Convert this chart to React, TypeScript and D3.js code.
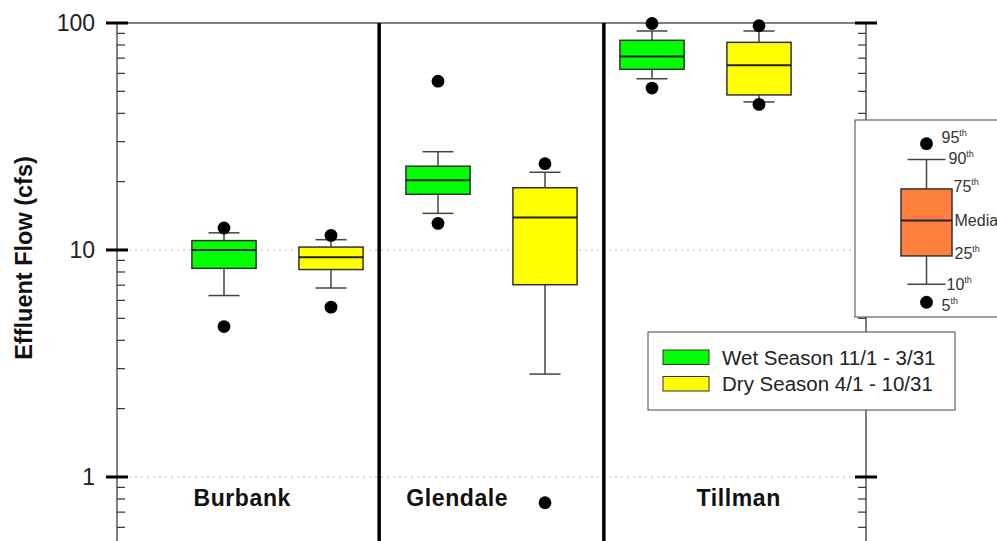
import React from "react";
import * as d3 from "d3";

const sites = ["Burbank", "Glendale", "Tillman"];
const seasons = ["Wet Season 11/1 - 3/31", "Dry Season 4/1 - 10/31"];
const seasonColors = ["#00FF00", "#FFFF00"];

// percentiles per site, wet season
const wetP5 = [4.6, 13.1, 51.7];
const wetP10 = [6.3, 14.5, 56.8];
const wetQ1 = [8.3, 17.6, 62.5];
const wetMedian = [10.0, 20.3, 71.1];
const wetQ3 = [11.0, 23.4, 83.9];
const wetP90 = [11.9, 27.1, 92.2];
const wetP95 = [12.5, 55.4, 99.5];

// percentiles per site, dry season
const dryP5 = [5.6, 0.77, 43.8];
const dryP10 = [6.8, 2.84, 44.9];
const dryQ1 = [8.2, 7.03, 48.2];
const dryMedian = [9.3, 13.9, 65.1];
const dryQ3 = [10.3, 18.8, 82.2];
const dryP90 = [11.1, 22.0, 92.2];
const dryP95 = [11.6, 24.0, 97.3];

const majorTicks = [1, 10, 100];
const separators = [2.45, 4.55];
const siteLabelPos = [1.17, 3.18, 5.81];

// illustrative box for the key (arbitrary linear units)
const keyStats = { p5: 0.75, p10: 1.66, q1: 3.1, median: 4.9, q3: 6.5, p90: 8.0, p95: 8.8 };

const FONT = "'Liberation Sans', Arial, sans-serif";

type Stats = { p5: number; p10: number; q1: number; median: number; q3: number; p90: number; p95: number };

const statsFor = (s: number, i: number): Stats =>
  s === 0
    ? { p5: wetP5[i], p10: wetP10[i], q1: wetQ1[i], median: wetMedian[i], q3: wetQ3[i], p90: wetP90[i], p95: wetP95[i] }
    : { p5: dryP5[i], p10: dryP10[i], q1: dryQ1[i], median: dryMedian[i], q3: dryQ3[i], p90: dryP90[i], p95: dryP95[i] };

const BoxGlyph = ({ cx, half, cap, st, yf, fill }: { cx: number; half: number; cap: number; st: Stats; yf: (v: number) => number; fill: string }) => (
  <g>
    <line x1={cx} x2={cx} y1={yf(st.p90)} y2={yf(st.q3)} stroke="#444" strokeWidth={1.5} />
    <line x1={cx} x2={cx} y1={yf(st.q1)} y2={yf(st.p10)} stroke="#444" strokeWidth={1.5} />
    <line x1={cx - cap} x2={cx + cap} y1={yf(st.p90)} y2={yf(st.p90)} stroke="#444" strokeWidth={1.5} />
    <line x1={cx - cap} x2={cx + cap} y1={yf(st.p10)} y2={yf(st.p10)} stroke="#444" strokeWidth={1.5} />
    <rect x={cx - half} y={yf(st.q3)} width={half * 2} height={yf(st.q1) - yf(st.q3)} fill={fill} stroke="#333" strokeWidth={1.5} />
    <line x1={cx - half} x2={cx + half} y1={yf(st.median)} y2={yf(st.median)} stroke="#222" strokeWidth={2} />
    <circle cx={cx} cy={yf(st.p95)} r={6.4} fill="#000" />
    <circle cx={cx} cy={yf(st.p5)} r={6.4} fill="#000" />
  </g>
);

export default function App() {
  const width = 997;
  const height = 541;
  const x = d3.scaleLinear().domain([0, 7]).range([117, 866]);
  const y = d3.scaleLog().domain([0.5, 100]).range([545.3, 23]);
  const unit = x(1) - x(0);

  const minorTicks: number[] = [];
  [0.1, 1, 10].forEach((d) => {
    for (let m = 2; m <= 9; m++) {
      const v = d * m;
      if (v >= 0.5 && v < 100) minorTicks.push(v);
    }
  });

  const left = x(0);
  const right = x(7);

  const keyY = d3.scaleLinear().domain([0, 10]).range([317, 120]);
  const keyCx = 926.5;
  const keyLabels = [
    { sup: "95", tail: "th", v: keyStats.p95, dx: 15, dy: -1 },
    { sup: "90", tail: "th", v: keyStats.p90, dx: 22, dy: 5 },
    { sup: "75", tail: "th", v: keyStats.q3, dx: 27, dy: 3 },
    { sup: "Media", tail: "", v: keyStats.median, dx: 28, dy: 6 },
    { sup: "25", tail: "th", v: keyStats.q1, dx: 28, dy: 3 },
    { sup: "10", tail: "th", v: keyStats.p10, dx: 20, dy: 6 },
    { sup: "5", tail: "th", v: keyStats.p5, dx: 15, dy: 9 },
  ];

  return (
    <div style={{ position: "absolute", left: 0, top: 0 }}>
      <svg width={width} height={height} style={{ display: "block", background: "#fff" }} fontFamily={FONT}>
        {/* grid */}
        {[1, 10].map((t) => (
          <line key={t} x1={left} x2={right} y1={y(t)} y2={y(t)} stroke="#bbb" strokeWidth={1} strokeDasharray="2,4" />
        ))}
        {/* top frame */}
        <line x1={left} x2={right} y1={y(100)} y2={y(100)} stroke="#555" strokeWidth={1.5} />
        {/* site separators */}
        {separators.map((s) => (
          <line key={s} x1={x(s)} x2={x(s)} y1={y(100)} y2={height} stroke="#000" strokeWidth={3.5} />
        ))}
        {/* boxes */}
        {sites.map((site, i) =>
          seasons.map((season, s) => (
            <BoxGlyph
              key={site + season}
              cx={x(2 * i + 1 + s)}
              half={unit * 0.3}
              cap={unit * 0.145}
              st={statsFor(s, i)}
              yf={y}
              fill={seasonColors[s]}
            />
          ))
        )}
        {/* site labels */}
        {sites.map((site, i) => (
          <text key={site} x={x(siteLabelPos[i])} y={506} textAnchor="middle" fontSize={23} fontWeight="bold" letterSpacing={0.6} fill="#111">
            {site}
          </text>
        ))}
        {/* axes */}
        {[left, right].map((ax, k) => (
          <g key={k}>
            <line x1={ax} x2={ax} y1={y(100)} y2={height} stroke="#555" strokeWidth={1.5} />
            {minorTicks.map((t) => (
              <line key={t} x1={ax} x2={k === 0 ? ax + 8 : ax - 8} y1={y(t)} y2={y(t)} stroke="#333" strokeWidth={1.2} />
            ))}
            {majorTicks.map((t) => (
              <line key={t} x1={ax - 11} x2={ax + 11} y1={y(t)} y2={y(t)} stroke="#000" strokeWidth={3} />
            ))}
          </g>
        ))}
        {majorTicks.map((t) => (
          <text key={t} x={95} y={y(t)} dy="0.36em" textAnchor="end" fontSize={23} fill="#222">
            {t}
          </text>
        ))}
        <text transform="translate(32,258) rotate(-90)" textAnchor="middle" fontSize={23.5} fontWeight="bold" fill="#111">
          Effluent Flow (cfs)
        </text>
        {/* key */}
        <rect x={855} y={120} width={200} height={197} fill="#fff" stroke="#444" strokeWidth={1} />
        <BoxGlyph cx={keyCx} half={25.5} cap={19} st={keyStats} yf={keyY} fill="#FF7F3F" />
        {keyLabels.map((l) => (
          <text key={l.sup} x={keyCx + l.dx} y={keyY(l.v) + l.dy} fontSize={16} fill="#333">
            {l.sup}
            {l.tail && (
              <tspan fontSize={9} dy={-7}>
                {l.tail}
              </tspan>
            )}
          </text>
        ))}
        {/* legend */}
        <rect x={648} y={332} width={307} height={78} fill="#fff" stroke="#444" strokeWidth={1} />
        {seasons.map((season, s) => (
          <g key={season}>
            <rect x={663} y={350 + s * 26.5} width={46} height={14.5} fill={seasonColors[s]} stroke="#333" strokeWidth={1} />
            <text x={722} y={364.5 + s * 26.5} fontSize={20.5} fill="#222">
              {season}
            </text>
          </g>
        ))}
      </svg>
    </div>
  );
}
